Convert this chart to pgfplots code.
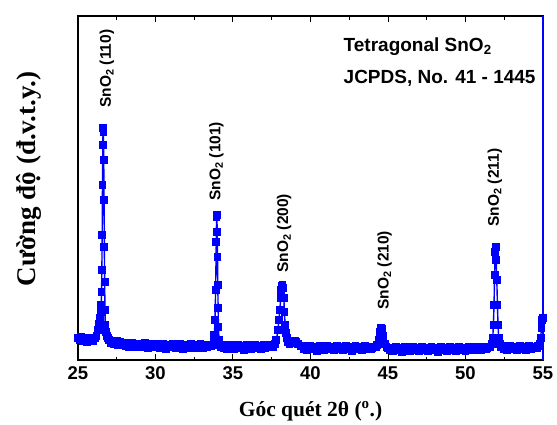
\documentclass[border=0pt]{standalone}
\usepackage{fontspec}
\setmainfont{Liberation Sans}
\newfontfamily\serif{Liberation Serif}
\usepackage{pgfplots}
\pgfplotsset{compat=1.18}
\definecolor{pblue}{RGB}{0,0,255}
\begin{document}
\begin{tikzpicture}
\begin{axis}[
  scale only axis, width=465pt, height=344pt,
  xmin=25, xmax=55, ymin=0, ymax=344,
  xtick={25,30,...,55}, minor x tick num=1,
  ytick=\empty,
  xtick pos=both, xticklabel pos=bottom,
  tick align=inside,
  major tick length=6pt, minor tick length=3.5pt,
  axis line style={line width=1.2pt},
  tick style={black, line width=1pt},
  /pgf/number format/assume math mode=true,
  xticklabel style={font=\bfseries\fontsize{18.5}{22}\selectfont, yshift=-3pt},
  xlabel={\serif\bfseries\fontsize{21.5}{25}\selectfont Góc quét 2θ (\textsuperscript{o}.)},
  ylabel={\serif\bfseries\fontsize{27}{31}\selectfont Cường độ (đ.v.t.y.)},
  ylabel style={at={(axis description cs:-0.106,0.526)}, anchor=center},
  xlabel style={at={(axis description cs:0.5,0)}, anchor=base, yshift=-56pt},
  clip=false,
]
\addplot[pblue, line width=1.4pt, mark=square*, mark size=3.2pt, mark options={solid, fill=pblue, draw=pblue}] coordinates {
(25.0,22) (25.1,20) (25.2,23) (25.3,19) (25.4,21) (25.5,22) (25.6,18) (25.7,22) (25.8,20) (25.9,21) (26.0,19) (26.1,22) (26.2,24)
(26.30,30) (26.36,36) (26.40,40) (26.44,42) (26.48,48) (26.50,55) (26.52,68) (26.54,90) (26.56,125) (26.58,175) (26.60,215) (26.62,232) (26.64,228) (26.66,200) (26.68,160) (26.70,113) (26.72,78) (26.74,50) (26.76,35) (26.80,28) (26.86,24) (26.92,22)
(27.0,20) (27.1,17) (27.2,19) (27.3,16) (27.4,18) (27.5,19) (27.6,15) (27.7,18) (27.8,17) (27.9,16)
(28.0,17) (28.1,14) (28.2,16) (28.3,13) (28.4,15) (28.5,17) (28.6,14) (28.7,16) (28.8,13) (28.9,15) (29.0,16) (29.1,13) (29.2,15) (29.3,17) (29.4,14) (29.5,12) (29.6,15) (29.7,16) (29.8,13) (29.9,15)
(30.0,16) (30.1,13) (30.2,15) (30.3,12) (30.4,14) (30.5,16) (30.6,13) (30.7,11) (30.8,14) (30.9,15) (31.0,13) (31.1,16) (31.2,14) (31.3,12) (31.4,15) (31.5,13) (31.6,16) (31.7,14) (31.8,11) (31.9,14) (32.0,15) (32.1,12) (32.2,14) (32.3,16) (32.4,13) (32.5,15) (32.6,12) (32.7,14) (32.8,13) (32.9,16) (33.0,14) (33.1,12) (33.2,15) (33.3,13) (33.4,14) (33.5,15) (33.6,14)
(33.70,15) (33.76,18) (33.80,25) (33.84,40) (33.88,70) (33.92,118) (33.94,143) (33.96,145) (33.98,128) (34.00,103) (34.02,75) (34.04,52) (34.06,33) (34.10,20) (34.16,15) (34.24,13)
(34.3,15) (34.4,12) (34.5,14) (34.6,11) (34.7,13) (34.8,15) (34.9,12) (35.0,14) (35.1,11) (35.2,13) (35.3,15) (35.4,12) (35.5,14) (35.6,13) (35.7,10) (35.8,13) (35.9,15) (36.0,12) (36.1,14) (36.2,11) (36.3,13) (36.4,15) (36.5,12) (36.6,14) (36.7,13) (36.8,11) (36.9,14) (37.0,15) (37.1,12) (37.2,14) (37.3,13) (37.4,15) (37.5,14)
(37.60,13) (37.70,16) (37.80,20) (37.90,30) (37.96,40) (38.02,50) (38.08,62) (38.12,70) (38.16,74) (38.20,75) (38.24,72) (38.28,62) (38.32,48) (38.36,35) (38.40,27) (38.46,22) (38.54,18) (38.65,16) (38.8,17) (38.9,19) (39.0,19) (39.1,18) (39.2,16) (39.4,14)
(39.5,14) (39.6,11) (39.7,13) (39.8,10) (39.9,12) (40.0,14) (40.1,11) (40.2,13) (40.3,12) (40.4,9) (40.5,12) (40.6,14) (40.7,11) (40.8,13) (40.9,10) (41.0,12) (41.1,14) (41.2,11) (41.3,13) (41.4,12) (41.5,10) (41.6,13) (41.7,14) (41.8,11) (41.9,12) (42.0,13) (42.1,10) (42.2,12) (42.3,14) (42.4,11) (42.5,13) (42.6,12) (42.7,9) (42.8,12) (42.9,14) (43.0,11) (43.1,13) (43.2,12) (43.3,10) (43.4,13) (43.5,14) (43.6,11) (43.7,12) (43.8,13) (43.9,11) (44.0,12) (44.1,13)
(44.2,13) (44.3,15) (44.4,20) (44.5,28) (44.56,32) (44.62,31) (44.7,24) (44.8,16) (44.9,13)
(45.0,12) (45.1,10) (45.2,12) (45.3,9) (45.4,11) (45.5,13) (45.6,10) (45.7,12) (45.8,11) (45.9,8) (46.0,11) (46.1,13) (46.2,10) (46.3,12) (46.4,9) (46.5,11) (46.6,13) (46.7,10) (46.8,12) (46.9,11) (47.0,9) (47.1,12) (47.2,13) (47.3,10) (47.4,11) (47.5,12) (47.6,9) (47.7,11) (47.8,13) (47.9,10) (48.0,12) (48.1,11) (48.2,8) (48.3,11) (48.4,13) (48.5,10) (48.6,12) (48.7,11) (48.8,9) (48.9,12) (49.0,13) (49.1,10) (49.2,11) (49.3,12) (49.4,9) (49.5,11) (49.6,13) (49.7,10) (49.8,12) (49.9,11) (50.0,9) (50.1,12) (50.2,13) (50.3,10) (50.4,11) (50.5,12) (50.6,10) (50.7,13) (50.8,11) (50.9,12) (51.0,10) (51.1,12) (51.2,13) (51.3,11) (51.4,12) (51.5,13)
(51.60,13) (51.70,16) (51.76,22) (51.80,35) (51.84,55) (51.88,85) (51.92,108) (51.95,113) (51.98,100) (52.02,80) (52.06,55) (52.10,35) (52.14,22) (52.20,16) (52.30,13)
(52.4,14) (52.5,11) (52.6,13) (52.7,10) (52.8,12) (52.9,14) (53.0,11) (53.1,13) (53.2,12) (53.3,10) (53.4,13) (53.5,14) (53.6,11) (53.7,12) (53.8,13) (53.9,10) (54.0,12) (54.1,14) (54.2,11) (54.3,13) (54.4,12) (54.5,13) (54.6,12) (54.7,14)
(54.8,16) (54.85,22) (54.9,32) (54.95,40) (55.0,42)
};
\draw[black, line width=2.2pt, line cap=rect] (rel axis cs:0,1) -- (rel axis cs:0,0) -- (rel axis cs:1,0);
\draw[pblue, line width=2pt] (rel axis cs:1,0) -- (rel axis cs:1,1);
\coordinate (bl) at (rel axis cs:0,0);
\coordinate (tr) at (rel axis cs:1,1);
\begin{scope}[every node/.style={font=\bfseries\fontsize{15.5}{18}\selectfont, inner sep=0pt, rotate=90, anchor=west}]
\node at (axis cs:26.87,252) {SnO\textsubscript{2} (110)};
\node at (axis cs:33.92,159) {SnO\textsubscript{2} (101)};
\node at (axis cs:38.30,87) {SnO\textsubscript{2} (200)};
\node at (axis cs:44.78,50) {SnO\textsubscript{2} (210)};
\node at (axis cs:51.89,133) {SnO\textsubscript{2} (211)};
\end{scope}
\node[anchor=base west, inner sep=0pt, font=\bfseries\fontsize{19}{22}\selectfont] at (axis cs:42.13,309) {Tetragonal SnO\textsubscript{2}};
\node[anchor=base west, inner sep=0pt, font=\bfseries\fontsize{19}{22}\selectfont] at (axis cs:42.13,277) {JCPDS, No. 41 - 1445};
\end{axis}
\pgfresetboundingbox
\path[use as bounding box] ([shift={(-78pt,-64pt)}]bl) rectangle ([shift={(14pt,16pt)}]tr);
\end{tikzpicture}
\end{document}
